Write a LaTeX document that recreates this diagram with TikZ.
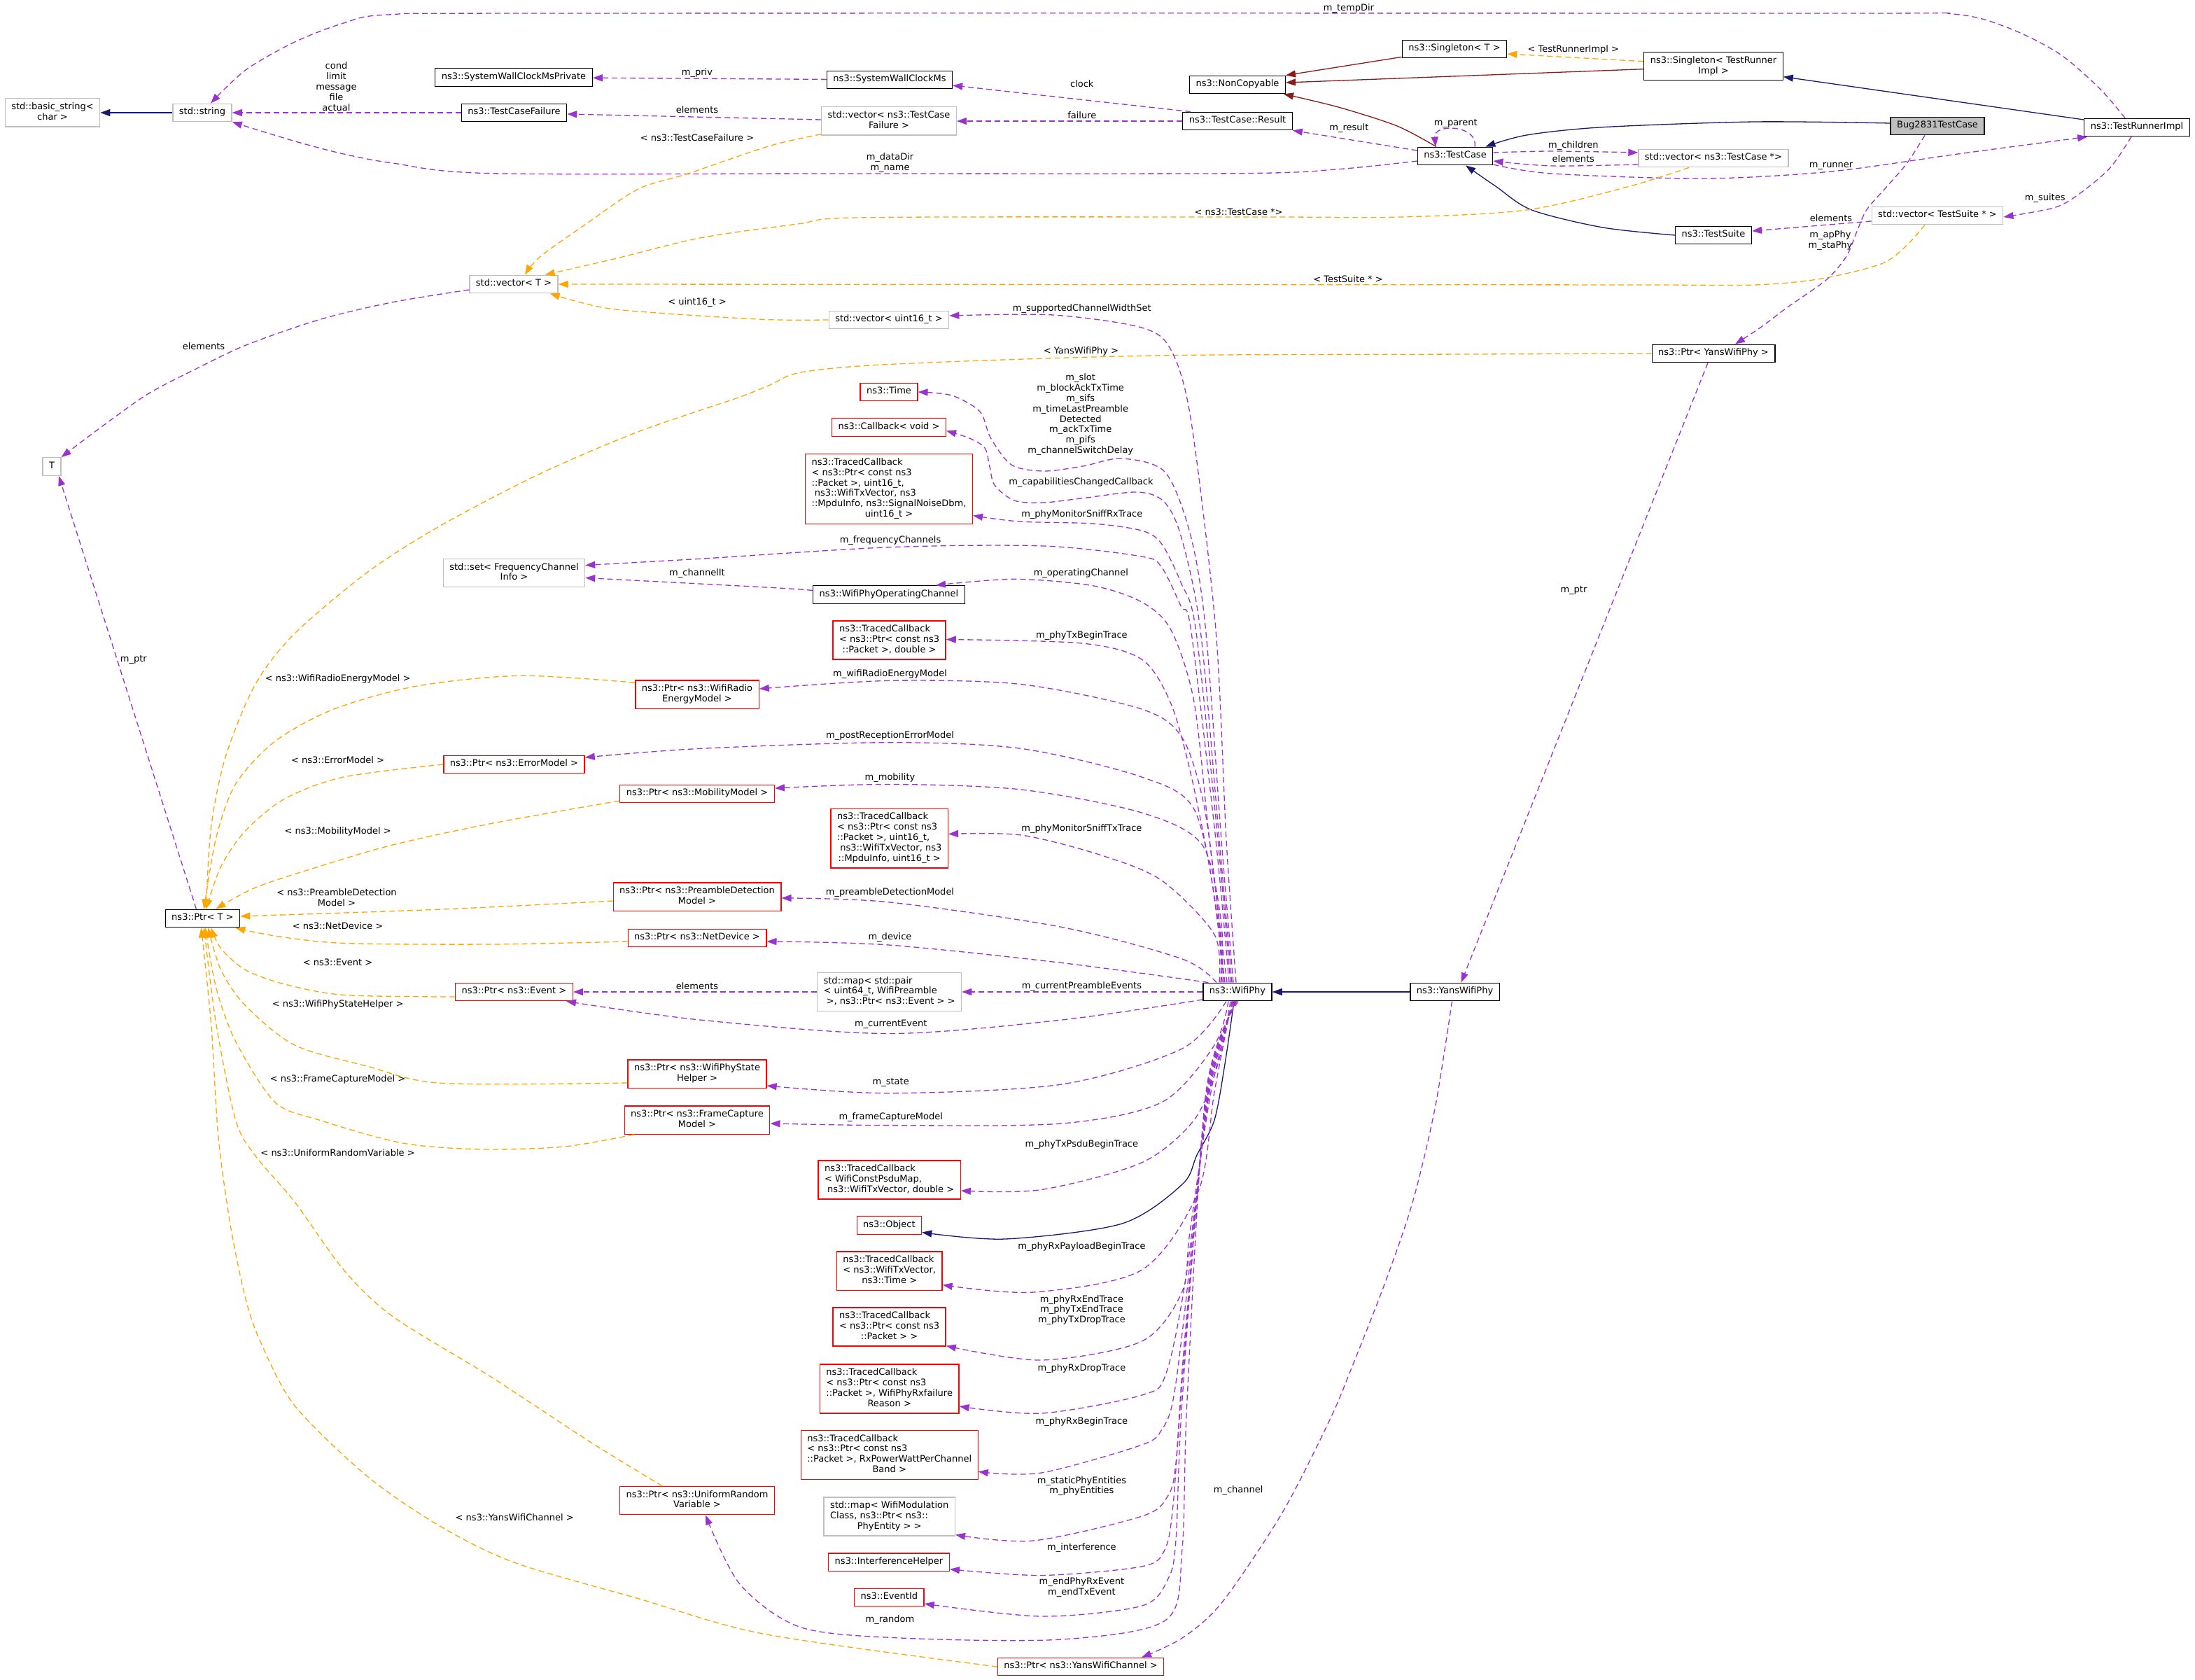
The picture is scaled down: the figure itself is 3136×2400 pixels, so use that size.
\documentclass[tikz,border=0pt]{standalone}
\usepackage{fontspec}
\setmainfont{DejaVu Sans}
\usetikzlibrary{arrows.meta}
\definecolor{cblue}{HTML}{191970}
\definecolor{cred}{HTML}{8B1A1A}
\definecolor{cpurp}{HTML}{9A32CD}
\definecolor{corange}{HTML}{FFA500}
\definecolor{cgrayb}{HTML}{BFBFBF}
\definecolor{cnodered}{HTML}{FF0000}
\newcommand\nfont{\fontsize{13}{14.8}\selectfont}
\newcommand\nlines[2]{\begin{tabular}{@{}l@{}}#1\\\multicolumn{1}{@{}c@{}}{#2}\end{tabular}}
\begin{document}
\begin{tikzpicture}[x=1pt,y=-1pt,
  nb/.style={draw, line width=1.3pt, inner xsep=9pt, inner ysep=5.35pt, font=\nfont, execute at begin node=\strut},
  bn/.style={nb, draw=black},
  gn/.style={nb, draw=cgrayb},
  rn/.style={nb, draw=cnodered},
  lbl/.style={font=\nfont, inner sep=0pt, align=center},
  edge/.style={line width=1.3pt},
  inh/.style={edge, draw=cblue, -{Triangle[length=14pt,width=10pt]}},
  priv/.style={edge, draw=cred, -{Triangle[length=14pt,width=10pt]}},
  mem/.style={edge, draw=cpurp, dash pattern=on 8pt off 5pt, -{Triangle[length=14pt,width=10pt]}},
  tmpl/.style={edge, draw=corange, dash pattern=on 8pt off 5pt, -{Triangle[length=14pt,width=10pt]}},
]
\fill[white] (0,0) rectangle (3136,2400);
\useasboundingbox (0,0) rectangle (3136,2400);

% ---------------- nodes ----------------
\node[gn] (bs) at (75,161) {\nlines{std::basic\_string<}{char >}};
\node[gn] (str) at (289,161) {std::string};
\node[bn] (swcp) at (734,110.5) {ns3::SystemWallClockMsPrivate};
\node[bn] (tcf) at (734.5,161) {ns3::TestCaseFailure};
\node[gn] (vecT) at (734,406) {std::vector< T >};
\node[bn] (swc) at (1271,114) {ns3::SystemWallClockMs};
\node[gn] (vtcf) at (1270,173) {\nlines{std::vector< ns3::TestCase}{Failure >}};
\node[bn] (res) at (1768,173) {ns3::TestCase::Result};
\node[bn] (nc) at (1768,121) {ns3::NonCopyable};
\node[bn] (sgT) at (2078,70) {ns3::Singleton< T >};
\node[bn] (tc) at (2079,223) {ns3::TestCase};
\node[bn] (sgR) at (2448,94.7) {\nlines{ns3::Singleton< TestRunner}{Impl >}};
\node[bn, fill=cgrayb] (bug) at (2768,180) {Bug2831TestCase};
\node[bn] (tri) at (3053,182) {ns3::TestRunnerImpl};
\node[gn] (vtc) at (2448,226) {std::vector< ns3::TestCase *>};
\node[gn] (vts) at (2768,308) {std::vector< TestSuite * >};
\node[bn] (ts) at (2448,336) {ns3::TestSuite};
\node[bn] (pywp) at (2448,505) {ns3::Ptr< YansWifiPhy >};
\node[bn] (ywp) at (2078.5,1417) {ns3::YansWifiPhy};
\node[gn] (vu16) at (1270,457) {std::vector< uint16\_t >};
\node[rn] (time) at (1270,560) {ns3::Time};
\node[rn] (cb) at (1270,610.5) {ns3::Callback< void >};
\node[rn] (tcRx) at (1270,698.5) {\nlines{ns3::TracedCallback\\< ns3::Ptr< const ns3\\::Packet >, uint16\_t,\\\ ns3::WifiTxVector, ns3\\::MpduInfo, ns3::SignalNoiseDbm,}{uint16\_t >}};
\node[gn] (T) at (74,666.5) {T};
\node[gn] (set) at (734.5,818.5) {\nlines{std::set< FrequencyChannel}{Info >}};
\node[bn] (woc) at (1270,849.5) {ns3::WifiPhyOperatingChannel};
\node[rn] (tcTxB) at (1270.6,914.5) {\nlines{ns3::TracedCallback\\< ns3::Ptr< const ns3}{::Packet >, double >}};
\node[rn] (pre) at (996,992) {\nlines{ns3::Ptr< ns3::WifiRadio}{EnergyModel >}};
\node[rn] (perr) at (734.5,1092) {ns3::Ptr< ns3::ErrorModel >};
\node[rn] (pmob) at (996,1134) {ns3::Ptr< ns3::MobilityModel >};
\node[rn] (tcTxS) at (1270.7,1197.5) {\nlines{ns3::TracedCallback\\< ns3::Ptr< const ns3\\::Packet >, uint16\_t,\\\ ns3::WifiTxVector, ns3}{::MpduInfo, uint16\_t >}};
\node[rn] (ppd) at (996,1281) {\nlines{ns3::Ptr< ns3::PreambleDetection}{Model >}};
\node[bn] (pT) at (289.4,1312) {ns3::Ptr< T >};
\node[rn] (pnd) at (996,1340) {ns3::Ptr< ns3::NetDevice >};
\node[rn] (pev) at (734.5,1417) {ns3::Ptr< ns3::Event >};
\node[gn] (mapPE) at (1270.6,1417) {\nlines{std::map< std::pair\\< uint64\_t, WifiPreamble}{\ >, ns3::Ptr< ns3::Event > >}};
\node[bn] (wp) at (1768,1417) {ns3::WifiPhy};
\node[rn] (pst) at (996,1534) {\nlines{ns3::Ptr< ns3::WifiPhyState}{Helper >}};
\node[rn] (pfc) at (996,1600) {\nlines{ns3::Ptr< ns3::FrameCapture}{Model >}};
\node[rn] (tcPsdu) at (1270.6,1685.5) {\nlines{ns3::TracedCallback\\< WifiConstPsduMap,}{\ ns3::WifiTxVector, double >}};
\node[rn] (obj) at (1270.4,1750.5) {ns3::Object};
\node[rn] (tcPay) at (1270.7,1815.6) {\nlines{ns3::TracedCallback\\< ns3::WifiTxVector,}{ns3::Time >}};
\node[rn] (tcEnd) at (1270.6,1895.4) {\nlines{ns3::TracedCallback\\< ns3::Ptr< const ns3}{::Packet > >}};
\node[rn] (tcDrop) at (1270.7,1984) {\nlines{ns3::TracedCallback\\< ns3::Ptr< const ns3\\::Packet >, WifiPhyRxfailure}{Reason >}};
\node[rn] (tcBeg) at (1270.7,2078.4) {\nlines{ns3::TracedCallback\\< ns3::Ptr< const ns3\\::Packet >, RxPowerWattPerChannel}{Band >}};
\node[gn] (mapPhy) at (1270.7,2166.4) {\nlines{std::map< WifiModulation\\Class, ns3::Ptr< ns3::}{PhyEntity > >}};
\node[rn] (ih) at (1270,2231.7) {ns3::InterferenceHelper};
\node[rn] (eid) at (1270.4,2282) {ns3::EventId};
\node[rn] (purv) at (996,2143.6) {\nlines{ns3::Ptr< ns3::UniformRandom}{Variable >}};
\node[rn] (pywc) at (1544,2381) {ns3::Ptr< ns3::YansWifiChannel >};

% ---------------- labels ----------------
\node[lbl] (lCond) at (480.5,123.7) {cond\\limit\\message\\file\\actual};
\node[lbl] (lPriv) at (996,104) {m\_priv};
\node[lbl] (lEl1) at (996,156.7) {elements};
\node[lbl] (lTCF) at (996,196.7) {< ns3::TestCaseFailure >};
\node[lbl] (lU16) at (996,431.7) {< uint16\_t >};
\node[lbl] (lClock) at (1545.8,119.3) {clock};
\node[lbl] (lFail) at (1545.8,164.3) {failure};
\node[lbl] (lRes) at (1927.4,183.3) {m\_result};
\node[lbl] (lPar) at (2079.7,176.7) {m\_parent};
\node[lbl] (lDD) at (1271.5,232.5) {m\_dataDir\\m\_name};
\node[lbl] (lTCp) at (1769.6,302.7) {< ns3::TestCase *>};
\node[lbl] (lTSp) at (1926,398.3) {< TestSuite * >};
\node[lbl] (lSCW) at (1545.8,440.7) {m\_supportedChannelWidthSet};
\node[lbl] (lTemp) at (1927,12) {m\_tempDir};
\node[lbl] (lTRI) at (2247.8,70.7) {< TestRunnerImpl >};
\node[lbl] (lChild) at (2247.8,208) {m\_children};
\node[lbl] (lEl2) at (2247.8,226.7) {elements};
\node[lbl] (lRun) at (2616,237) {m\_runner};
\node[lbl] (lSuites) at (2921.7,283) {m\_suites};
\node[lbl] (lEl3) at (2616,311.7) {elements};
\node[lbl] (lAp) at (2615,343.4) {m\_apPhy\\m\_staPhy};
\node[lbl] (lPtr2) at (2248.4,843) {m\_ptr};
\node[lbl] (lYWP) at (1544.4,502.3) {< YansWifiPhy >};
\node[lbl] (lTime) at (1543.7,592.2) {m\_slot\\m\_blockAckTxTime\\m\_sifs\\m\_timeLastPreamble\\Detected\\m\_ackTxTime\\m\_pifs\\m\_channelSwitchDelay};
\node[lbl] (lCap) at (1544.4,688.7) {m\_capabilitiesChangedCallback};
\node[lbl] (lRx) at (1545.8,734.7) {m\_phyMonitorSniffRxTrace};
\node[lbl] (lFreq) at (1272,771.7) {m\_frequencyChannels};
\node[lbl] (lChIt) at (996,818.7) {m\_channelIt};
\node[lbl] (lOp) at (1544.4,818.7) {m\_operatingChannel};
\node[lbl] (lEl4) at (291,494.7) {elements};
\node[lbl] (lPtr1) at (190.8,942.3) {m\_ptr};
\node[lbl] (lWRE) at (482.6,970) {< ns3::WifiRadioEnergyModel >};
\node[lbl] (lErr) at (482.6,1085.7) {< ns3::ErrorModel >};
\node[lbl] (lMob) at (482.6,1188.3) {< ns3::MobilityModel >};
\node[lbl] (lPD) at (481,1282.4) {< ns3::PreambleDetection\\Model >};
\node[lbl] (lND) at (482.6,1322.4) {< ns3::NetDevice >};
\node[lbl] (lEv) at (482.6,1374.5) {< ns3::Event >};
\node[lbl] (lEl5) at (996,1408.7) {elements};
\node[lbl] (lWPS) at (482.6,1435.2) {< ns3::WifiPhyStateHelper >};
\node[lbl] (lFC) at (482.6,1541.8) {< ns3::FrameCaptureModel >};
\node[lbl] (lURV) at (482.6,1647) {< ns3::UniformRandomVariable >};
\node[lbl] (lYWC) at (735.2,2167.9) {< ns3::YansWifiChannel >};
\node[lbl] (lTxB) at (1545.4,907.7) {m\_phyTxBeginTrace};
\node[lbl] (lWREm) at (1271.5,963.3) {m\_wifiRadioEnergyModel};
\node[lbl] (lPRE) at (1271.5,1051.5) {m\_postReceptionErrorModel};
\node[lbl] (lMobm) at (1271.5,1111.2) {m\_mobility};
\node[lbl] (lTxS) at (1545.4,1184.2) {m\_phyMonitorSniffTxTrace};
\node[lbl] (lPDm) at (1271.5,1275) {m\_preambleDetectionModel};
\node[lbl] (lDev) at (1271.5,1339.3) {m\_device};
\node[lbl] (lCPE) at (1545.4,1408.7) {m\_currentPreambleEvents};
\node[lbl] (lCE) at (1272.7,1463.3) {m\_currentEvent};
\node[lbl] (lState) at (1272.7,1546.4) {m\_state};
\node[lbl] (lFCm) at (1272.7,1596.4) {m\_frameCaptureModel};
\node[lbl] (lPsdu) at (1545.4,1634.7) {m\_phyTxPsduBeginTrace};
\node[lbl] (lPay) at (1545.4,1780.6) {m\_phyRxPayloadBeginTrace};
\node[lbl] (lEnd) at (1545.4,1871.4) {m\_phyRxEndTrace\\m\_phyTxEndTrace\\m\_phyTxDropTrace};
\node[lbl] (lDrop) at (1545.4,1954.6) {m\_phyRxDropTrace};
\node[lbl] (lBeg) at (1545.4,2030.6) {m\_phyRxBeginTrace};
\node[lbl] (lSPE) at (1545.4,2123) {m\_staticPhyEntities\\m\_phyEntities};
\node[lbl] (lInt) at (1545.4,2211.2) {m\_interference};
\node[lbl] (lEPR) at (1545.4,2267.9) {m\_endPhyRxEvent\\m\_endTxEvent};
\node[lbl] (lRand) at (1271.5,2314.3) {m\_random};
\node[lbl] (lChan) at (1769.2,2128.6) {m\_channel};

% ---------------- edges: top part ----------------
\draw[inh] (str) -- (bs);
\draw[mem] (tcf) -- (str);
\draw[mem] plot[smooth] coordinates {([yshift=-7pt]tc.west) (1912,241.7) (1771.7,247.7) (1200,248) (701.5,247.7) (561,233) (491,220) (421,201.7) (str.south east)};
\draw[mem] plot[smooth] coordinates {([xshift=-17pt]tri.north) (3000,126.7) (2942,76.7) (2869.6,40) (2790,20) (2600,19) (800,19) (554,21) (491,33) (421,60) (351,100) ([xshift=12pt]str.north)};
\draw[mem] (swc) -- (swcp);
\draw[mem] ([yshift=2pt]vtcf.west) -- ([yshift=-2pt]tcf.east);
\draw[tmpl] plot[smooth] coordinates {([yshift=2pt]vtcf.south west) (1100,208.3) (982,248.3) (912,270) (842,316.7) (771.7,366.7) ([xshift=16pt]vecT.north)};
\draw[mem] ([xshift=12pt]res.north west) -- ([yshift=-8pt]swc.east);
\draw[mem] (res.west) -- (vtcf.east);
\draw[mem] ([yshift=8pt]tc.west) -- (res.south east);
\draw[priv] plot[smooth] coordinates {([xshift=-27pt]tc.north) (1996,180) (1912,153) ([xshift=-3pt]nc.south east)};
\draw[priv] ([yshift=2pt]sgT.south west) -- (nc.north east);
\draw[priv] ([yshift=-4pt]sgR.west) -- ([yshift=3pt]nc.east);
\draw[tmpl] ([yshift=7pt]sgR.west) -- ([yshift=-7pt]sgT.east);
\draw[inh] ([yshift=11pt]tri.west) -- ([yshift=-15pt]sgR.east);
\draw[inh] plot[smooth] coordinates {([yshift=4pt]bug.west) (2507,174) (2290,181.7) (2181,193) ([xshift=-11pt]tc.north east)};
\draw[mem] ([xshift=28pt]tc.north) .. controls (2112,178) and (2048,176) .. ([xshift=-28pt]tc.north);
\draw[mem] plot[smooth] coordinates {([yshift=5pt]tc.east) (2217,216) ([yshift=8pt]vtc.west)};
\draw[mem] plot[smooth] coordinates {([yshift=-9pt]vtc.west) (2217,237) ([yshift=-7pt]tc.east)};
\draw[mem] plot[smooth] coordinates {([yshift=-12pt]tc.east) (2217,248) (2435,255) (2616,245) (2797,220) ([xshift=5pt]tri.south west)};
\draw[mem] plot[smooth] coordinates {([xshift=-8pt]tri.south) (3014.5,240) (2971,276.7) (2935,296.7) ([yshift=-2pt]vts.east)};
\draw[mem] ([yshift=-8pt]vts.west) -- ([yshift=6pt]ts.east);
\draw[inh] plot[smooth] coordinates {(ts.west) (2290,325) (2188.4,300) (2137.7,266.7) ([xshift=15pt]tc.south)};
\draw[tmpl] plot[smooth] coordinates {([xshift=-35pt]vtc.south) (2326,266.7) (2181,300) (2000,310) (1800,310) (1238.5,310.7) (1140,320) (1000,340) (877,370) ([xshift=-19pt]vecT.north east)};
\draw[tmpl] plot[smooth] coordinates {([xshift=-18pt]vts.south) (2724.6,350) (2688.4,376.7) (2601,398.3) (2507,407) (2362,407) (2000,406.7) (vecT.east)};
\draw[tmpl] plot[smooth] coordinates {(vu16.west) (1100,456.7) (982,450) (877,441.7) (827.8,431.7) ([xshift=-12pt]vecT.south east)};
\draw[mem] plot[smooth] coordinates {([yshift=-8pt]vecT.west) (561,431.7) (456,456.7) (350.8,493.3) (280.6,526.7) (210.5,563.3) (140.3,613.3) (T.north east)};
\draw[mem] ([xshift=-9pt]pT.north) -- ([xshift=10pt]T.south);
\draw[mem] plot[smooth] coordinates {([xshift=-18pt]bug.south) (2724.6,233) (2695.6,266.7) (2666.7,300) (2652,333) (2637.7,366.7) (2609,400) (2555,438) (2515,468) ([xshift=31pt]pywp.north)};
\draw[mem] ([xshift=-8pt]pywp.south) -- ([xshift=9pt]ywp.north);
\draw[tmpl] plot[smooth] coordinates {(pywp.west) (2100,506) (1650,508) (1279.6,520) (1145.7,531.7) (1100,550) (1053.8,568.3) (912,616.7) (771.7,676.7) (631,750) (526,816.7) (421,905) (364.8,977.6) (322.7,1079.6) (301.6,1181.6) ([xshift=5pt]pT.north)};

% ---------------- edges: Ptr<T> templates ----------------
\draw[tmpl] plot[smooth] coordinates {([yshift=-4pt]pre.north west) (743.6,965.3) (596,980) (477,1013) (393,1059) (336.7,1120) (308.7,1197) ([xshift=2pt]pT.north)};
\draw[tmpl] plot[smooth] coordinates {(perr.west) (491,1110) (407,1141) (350.8,1186.7) (315.7,1237.8) ([xshift=5pt]pT.north)};
\draw[tmpl] plot[smooth] coordinates {([yshift=-10pt]pmob.west) (701.5,1176.5) (561,1207) (456,1237.8) (364.8,1268) ([xshift=19pt]pT.north)};
\draw[tmpl] plot[smooth] coordinates {([yshift=-6pt]ppd.west) (631,1299) ([yshift=3pt]pT.east)};
\draw[tmpl] plot[smooth] coordinates {([yshift=-5pt]pnd.west) (701.5,1349) (491,1347.4) (392.8,1337) ([xshift=-7pt]pT.south east)};
\draw[tmpl] plot[smooth] coordinates {([yshift=-7pt]pev.west) (491,1421.4) (407,1406) (350.8,1385.7) (315.7,1355) ([xshift=12pt]pT.south)};
\draw[tmpl] plot[smooth] coordinates {([yshift=-13pt]pst.west) (631,1547.4) (526,1523.5) (421,1493) (350.8,1436.7) (315.7,1385.7) ([xshift=8pt]pT.south)};
\draw[tmpl] plot[smooth] coordinates {([xshift=14pt]pfc.south west) (806.7,1638) (687.5,1641.8) (575,1633) (456,1600) (392.8,1574.5) (336.7,1487.8) (308.7,1411) ([xshift=4pt]pT.south)};
\draw[tmpl] plot[smooth] coordinates {([xshift=-50pt]purv.north) (841.8,2059) (701.5,1967) (561,1880.6) (491,1814) (421,1717) (364.8,1651) (336.7,1600) (308.7,1462) ([xshift=2pt]pT.south)};
\draw[tmpl] plot[smooth] coordinates {(pywc.west) (1094,2334.7) (912,2283.7) (736.6,2232.7) (631,2181.6) (526,2110) (421,2008) (371.8,1916) (350.8,1855) (329.7,1753) (312,1625) (301.6,1462) ([xshift=-2pt]pT.south)};

% ---------------- edges: WifiPhy upwards ----------------
\draw[mem] plot[smooth] coordinates {([xshift=-2pt]wp.north) (1752,1200) (1737,900) (1701.5,600) (1673,500) (1631,468) (1505,450) ([yshift=6pt]vu16.east)};
\draw[mem] plot[smooth] coordinates {([xshift=-6pt]wp.north) (1745,1200) (1722.6,900) (1701.5,767) (1665,675) (1603,655) (1547,666) (1491,673) (1445,664) (1415,625) (1400,588) (1360,565) (time.east)};
\draw[mem] plot[smooth] coordinates {([xshift=-8pt]wp.north) (1742,1200) (1715,900) (1687.5,766.7) (1663,716.7) (1625,703) (1547,711.7) (1491,718) (1449,715) (1421,693) (1414,666.7) (1407,640) (1385,626) ([yshift=-5pt]cb.east)};
\draw[mem] plot[smooth] coordinates {([xshift=-10pt]wp.north) (1740,1200) (1708.5,900) (1687.5,833) (1659.4,776.7) (1631,758) (1561,748) (1456,745) ([yshift=-38pt]tcRx.east)};
\draw[mem] plot[smooth] coordinates {([xshift=-12pt]wp.north) (1737,1200) (1701.5,900) (1687.5,866.7) (1659.4,810) (1631,795) (1491,780) (1272,781.7) (1000,798.3) ([yshift=11pt]set.east)};
\draw[mem] plot[smooth] coordinates {([yshift=6pt]woc.west) (1100,839.3) ([yshift=-7pt]set.east)};
\draw[mem] plot[smooth] coordinates {([xshift=-15pt]wp.north) (1728,1200) (1706,1003) (1673,900) (1631,860) (1561,836.7) (1449,827.3) ([xshift=67pt]woc.north)};
\draw[mem] plot[smooth] coordinates {([xshift=-18pt]wp.north) (1730,1250) (1700,1100) (1672,1003) (1631,941.8) (1545,918.9) ([yshift=1pt]tcTxB.east)};
\draw[mem] plot[smooth] coordinates {([xshift=-20pt]wp.north) (1740,1300) (1720,1150) (1689,1054) (1631,1013) (1459,977.6) (1270,972.4) ([yshift=8pt]pre.east)};
\draw[mem] plot[smooth] coordinates {([xshift=-22pt]wp.north) (1738,1300) (1706,1156) (1631,1110) (1459,1069.4) (1270,1060.7) (1000,1069.4) ([yshift=10pt]perr.east)};
\draw[mem] plot[smooth] coordinates {([xshift=-24pt]wp.north) (1745,1320) (1717.6,1207) (1631,1161) (1459,1128) (1270,1120.4) ([yshift=8pt]pmob.east)};
\draw[mem] plot[smooth] coordinates {([xshift=-26pt]wp.north) (1735,1335) (1660,1258) (1574,1222) (1459,1193) ([yshift=6pt]tcTxS.east)};
\draw[mem] plot[smooth] coordinates {([xshift=-30pt]wp.north) (1689,1370) (1517,1324.5) (1270,1288.8) ([yshift=-2pt]ppd.east)};
\draw[mem] plot[smooth] coordinates {([xshift=8pt]wp.north west) (1517,1375.5) (1270,1350) ([yshift=-5pt]pnd.east)};
\draw[mem] (wp.west) -- (mapPE.east);
\draw[mem] (mapPE.west) -- (pev.east);
\draw[mem] plot[smooth] coordinates {([yshift=-11pt]wp.west) (1517,1457) (1270,1476.5) (1000,1457) ([xshift=-10pt]pev.south east)};

% ---------------- edges: WifiPhy downwards ----------------
\draw[mem] plot[smooth] coordinates {([xshift=-16pt]wp.south) (1689,1498) (1517,1549) (1270,1561.7) ([yshift=-17pt]pst.east)};
\draw[mem] plot[smooth] coordinates {([xshift=-13pt]wp.south) (1735,1493) (1660,1574.5) (1517,1605) (1270,1607.6) ([yshift=-5pt]pfc.east)};
\draw[mem] plot[smooth] coordinates {([xshift=-10pt]wp.south) (1740,1520) (1706,1600) (1631,1661) (1488,1699.5) ([yshift=-15.5pt]tcPsdu.east)};
\draw[inh] plot[smooth] coordinates {([xshift=-5pt]wp.south) (1750,1520) (1735,1600) (1710,1650) (1689,1692) (1603,1748) (1436,1770) ([yshift=-10pt]obj.east)};
\draw[mem] plot[smooth] coordinates {([xshift=-8pt]wp.south) (1735,1560) (1712,1702) (1631.5,1814) (1476.5,1846) ([yshift=-20pt]tcPay.east)};
\draw[mem] plot[smooth] coordinates {([xshift=-7pt]wp.south) (1730,1560) (1700,1760) (1689,1845) (1631.5,1916) (1488,1943) ([yshift=1pt]tcEnd.south east)};
\draw[mem] plot[smooth] coordinates {([xshift=-6pt]wp.south) (1728,1560) (1695,1820) (1666,1962) (1631.5,1993) (1488,2019) ([yshift=-25pt]tcDrop.east)};
\draw[mem] plot[smooth] coordinates {([xshift=-4pt]wp.south) (1727,1560) (1693,1870) (1676,2000) (1660,2042) (1631.5,2064) (1488,2104) ([yshift=-24pt]tcBeg.east)};
\draw[mem] plot[smooth] coordinates {([xshift=-3pt]wp.south) (1726,1560) (1692,1920) (1680,2090) (1668,2138) (1631.5,2166) (1476.5,2201) ([yshift=2pt]mapPhy.south east)};
\draw[mem] plot[smooth] coordinates {([xshift=-2pt]wp.south) (1725,1560) (1690,1960) (1676,2150) (1664,2214) (1631.5,2237.8) (1488,2250.5) ([yshift=-10pt]ih.east)};
\draw[mem] plot[smooth] coordinates {([xshift=-1pt]wp.south) (1724,1560) (1689,2000) (1680,2200) (1669,2255) (1631.5,2294) (1488,2309) ([yshift=-9pt]eid.east)};
\draw[mem] plot[smooth] coordinates {([xshift=1pt]wp.south) (1723,1560) (1696,2000) (1689,2212) (1666,2314) (1516.6,2342) (1287,2340) (1143.5,2324.5) (1057,2263) ([xshift=12pt]purv.south)};

% ---------------- YansWifiPhy ----------------
\draw[inh] (ywp) -- (wp);
\draw[mem] plot[smooth] coordinates {([xshift=-4pt]ywp.south) (2050,1584) (2018,1718) (1979,1832) (1931.5,1953) (1900,2028) (1832,2161) (1746,2289) (1689,2340) ([xshift=87pt]pywc.north)};
\end{tikzpicture}
\end{document}
